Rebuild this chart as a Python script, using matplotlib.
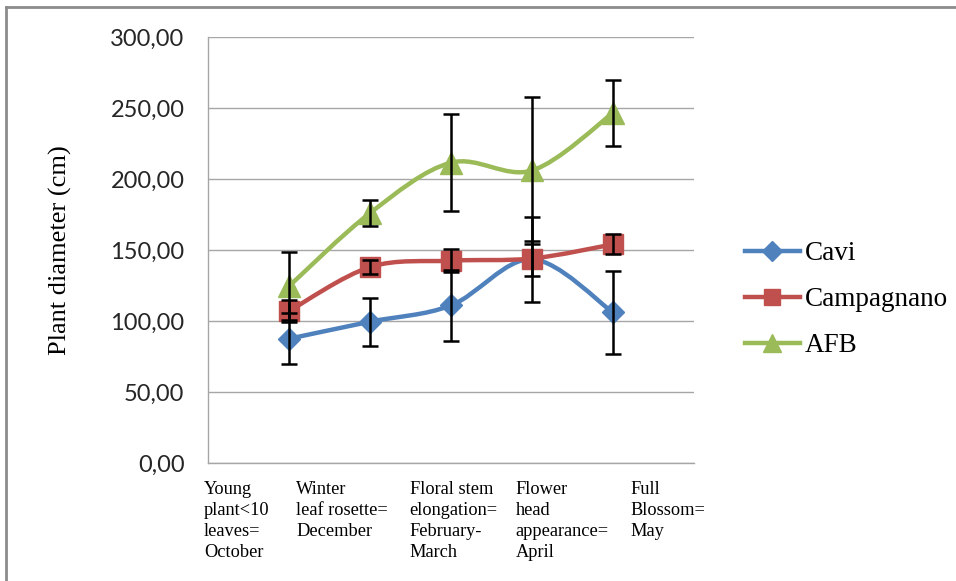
import numpy as np
import matplotlib
matplotlib.use("Agg")
import matplotlib.pyplot as plt
from matplotlib.path import Path
from matplotlib.patches import PathPatch
from matplotlib.lines import Line2D
from matplotlib.ticker import FuncFormatter

# Growth stages (categories)
stages = [
    "Young\nplant<10\nleaves=\nOctober",
    "Winter\nleaf rosette=\nDecember",
    "Floral stem\nelongation=\nFebruary-\nMarch",
    "Flower\nhead\nappearance=\nApril",
    "Full\nBlossom=\nMay",
]

# Mean plant diameter (cm) per population
cavi = [87.5, 99.5, 111.0, 143.5, 106.0]
campagnano = [107.0, 138.0, 142.5, 144.0, 154.0]
afb = [124.5, 176.0, 211.5, 206.0, 246.5]

# Standard deviations
cavi_err = [18.0, 17.0, 25.0, 30.0, 29.0]
campagnano_err = [8.0, 5.0, 8.0, 12.0, 7.0]
afb_err = [24.0, 9.0, 34.0, 52.0, 23.0]

series_names = ["Cavi", "Campagnano", "AFB"]

BLUE = "#4F81BD"
RED = "#C0504D"
GREEN = "#9BBB59"
GRID = "#A6A6A6"

SERIF = ["Liberation Serif", "DejaVu Serif"]
SANS = ["Lato", "DejaVu Sans"]

fig = plt.figure(figsize=(9.56, 5.81), dpi=100)
ax = fig.add_axes([208 / 956, 1 - 463 / 581, 486 / 956, 426 / 581])

x = np.arange(len(stages))


def smooth_path(xs, ys):
    """Bezier path through the points (Catmull-Rom style smoothing)."""
    pts = np.column_stack([xs, ys]).astype(float)
    n = len(pts)
    verts = [pts[0]]
    codes = [Path.MOVETO]
    for i in range(n - 1):
        p0 = pts[i - 1] if i > 0 else pts[i]
        p1 = pts[i]
        p2 = pts[i + 1]
        p3 = pts[i + 2] if i + 2 < n else pts[i + 1]
        c1 = p1 + (p2 - p0) / 6.0
        c2 = p2 - (p3 - p1) / 6.0
        verts += [c1, c2, p2]
        codes += [Path.CURVE4] * 3
    return Path(verts, codes)


styles = [
    (cavi, cavi_err, BLUE, "D", 11.5),
    (campagnano, campagnano_err, RED, "s", 14),
    (afb, afb_err, GREEN, "^", 16),
]

handles = []
for k, (vals, errs, color, marker, ms) in enumerate(styles):
    patch = PathPatch(smooth_path(x, vals), facecolor="none", edgecolor=color,
                      lw=3.2, capstyle="round", joinstyle="round", zorder=3 + k)
    ax.add_patch(patch)
    ax.plot(x, vals, linestyle="none", marker=marker, ms=ms, color=color,
            markeredgecolor=color, zorder=3 + k)
    ax.errorbar(x, vals, yerr=errs, fmt="none", ecolor="black", elinewidth=1.8,
                capsize=6, capthick=1.8, zorder=10)
    handles.append(Line2D([0], [0], color=color, lw=3.2, marker=marker,
                          ms=ms * 0.85, markeredgecolor=color))

ax.set_xlim(-1, 5)
ax.set_ylim(0, 300)
ax.set_yticks(np.arange(0, 301, 50))
ax.yaxis.set_major_formatter(FuncFormatter(lambda v, p: f"{v:.2f}".replace(".", ",")))
ax.set_xticks([])
ax.grid(axis="y", color=GRID, lw=1.0)
ax.set_axisbelow(True)
for side in ["top", "right"]:
    ax.spines[side].set_visible(False)
for side in ["left", "bottom"]:
    ax.spines[side].set_color(GRID)
    ax.spines[side].set_linewidth(1.0)
ax.tick_params(axis="y", length=0, pad=17, labelsize=17, labelcolor="#262626")
for lbl in ax.get_yticklabels():
    lbl.set_family(SANS)

ax.set_ylabel("Plant diameter (cm)", fontsize=19, family=SERIF)
ax.yaxis.set_label_coords(-0.28, 0.5)

# Category labels, left-aligned beneath the axis
label_x = [-1.05, 0.09, 1.49, 2.80, 4.21]
trans = matplotlib.transforms.blended_transform_factory(ax.transData, ax.transAxes)
for lx, txt in zip(label_x, stages):
    ax.text(lx, -0.042, txt, transform=trans, ha="left", va="top",
            fontsize=13.2, family=SERIF, linespacing=1.3)

leg = fig.legend(handles, series_names, loc="upper left",
                 bbox_to_anchor=(721 / 956, 1 - 217 / 581), frameon=False,
                 prop={"family": SERIF, "size": 19.5}, handlelength=2.0,
                 handletextpad=0.2, labelspacing=0.77)

# Outer chart frame (top and left edges)
fig.add_artist(Line2D([6 / 956, 1.0], [1 - 7 / 581, 1 - 7 / 581],
                      transform=fig.transFigure, color="#8C8C8C", lw=2))
fig.add_artist(Line2D([6 / 956, 6 / 956], [0.0, 1 - 7 / 581],
                      transform=fig.transFigure, color="#8C8C8C", lw=2))

fig.savefig("out.png", dpi=100)
